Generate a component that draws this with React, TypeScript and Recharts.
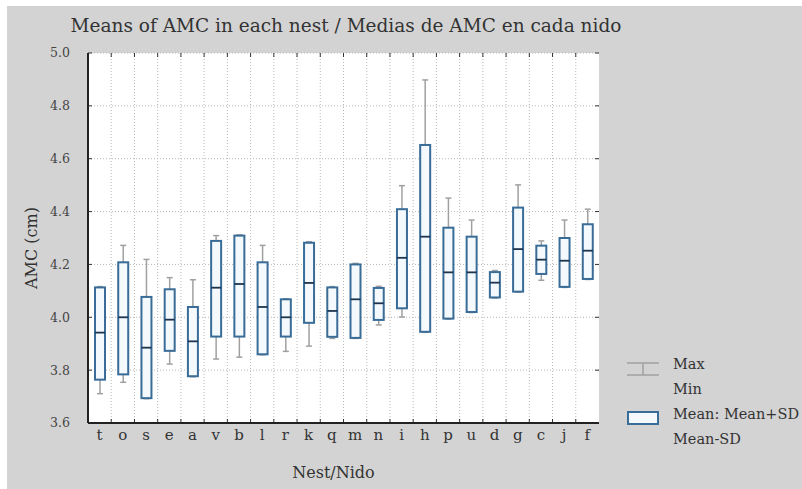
import React from "react";
import { ComposedChart, Bar, XAxis, YAxis, CartesianGrid, Label } from "recharts";

// nest codes in plotted order
const nests = ["t", "o", "s", "e", "a", "v", "b", "l", "r", "k", "q", "m", "n", "i", "h", "p", "u", "d", "g", "c", "j", "f"];
const means = [3.942, 4.0, 3.885, 3.991, 3.909, 4.112, 4.126, 4.039, 4.0, 4.13, 4.024, 4.068, 4.053, 4.225, 4.305, 4.17, 4.17, 4.131, 4.258, 4.218, 4.214, 4.252];
const meanPlusSD = [4.113, 4.208, 4.077, 4.106, 4.039, 4.289, 4.309, 4.208, 4.068, 4.282, 4.113, 4.2, 4.111, 4.409, 4.652, 4.339, 4.305, 4.171, 4.415, 4.271, 4.3, 4.352];
const meanMinusSD = [3.764, 3.784, 3.694, 3.873, 3.777, 3.927, 3.927, 3.86, 3.927, 3.979, 3.926, 3.922, 3.99, 4.034, 3.945, 3.995, 4.02, 4.075, 4.097, 4.164, 4.115, 4.145];
const maxima = [4.116, 4.272, 4.219, 4.15, 4.142, 4.309, 4.312, 4.272, 4.07, 4.286, 4.116, 4.204, 4.117, 4.498, 4.898, 4.451, 4.368, 4.177, 4.501, 4.289, 4.368, 4.409];
const minima = [3.711, 3.754, 3.692, 3.823, 3.775, 3.842, 3.849, 3.858, 3.871, 3.891, 3.92, 3.92, 3.971, 4.001, 3.943, 3.993, 4.018, 4.073, 4.095, 4.14, 4.113, 4.143];
const yTicks = [3.6, 3.8, 4.0, 4.2, 4.4, 4.6, 4.8, 5.0];

const FONT = "'DejaVu Serif', serif";
const BOX_STROKE = "#3a6c98";
const BOX_FILL = "#f3f9fd";
const MEAN_STROKE = "#1d3550";
const WHISKER = "#a0a0a0";

const data = nests.map((nest, i) => ({
  nest,
  mean: means[i],
  hi: meanPlusSD[i],
  lo: meanMinusSD[i],
  max: maxima[i],
  min: minima[i],
  range: [minima[i], maxima[i]],
}));

// the bar spans min..max; the other levels are placed on the same scale
const BoxShape = (props: any) => {
  const { x, y, width, height, payload } = props;
  const top = Math.min(y, y + height);
  const span = Math.abs(height);
  const { max, min, hi, lo, mean } = payload;
  const py = (v: number) => top + ((max - v) / (max - min)) * span;
  const cx = x + width / 2;
  const cap = 3;
  return (
    <g>
      <line x1={cx} x2={cx} y1={py(max)} y2={py(hi)} stroke={WHISKER} strokeWidth={1.5} />
      <line x1={cx} x2={cx} y1={py(lo)} y2={py(min)} stroke={WHISKER} strokeWidth={1.5} />
      <line x1={cx - cap} x2={cx + cap} y1={py(max)} y2={py(max)} stroke={WHISKER} strokeWidth={1.5} />
      <line x1={cx - cap} x2={cx + cap} y1={py(min)} y2={py(min)} stroke={WHISKER} strokeWidth={1.5} />
      <rect x={x} y={py(hi)} width={width} height={py(lo) - py(hi)} fill={BOX_FILL} stroke={BOX_STROKE} strokeWidth={2} />
      <line x1={x} x2={x + width} y1={py(mean)} y2={py(mean)} stroke={MEAN_STROKE} strokeWidth={1.8} />
    </g>
  );
};

// vertical grid at the borders between nests
const boundaries = ({ offset }: any) =>
  nests.slice(1).map((_, k) => offset.left + ((k + 1) * offset.width) / nests.length);

const LegendBox = () => (
  <div style={{ position: "absolute", left: 620, top: 352, fontFamily: FONT, fontSize: 14.5, color: "#333", lineHeight: "25px", whiteSpace: "nowrap" }}>
    <div style={{ display: "flex" }}>
      <svg width={53} height={50}>
        <line x1={7} x2={39} y1={11} y2={11} stroke={WHISKER} strokeWidth={1.5} />
        <line x1={7} x2={39} y1={23} y2={23} stroke={WHISKER} strokeWidth={1.5} />
        <line x1={23} x2={23} y1={11} y2={23} stroke={WHISKER} strokeWidth={1.5} />
      </svg>
      <div>
        <div>Max</div>
        <div>Min</div>
      </div>
    </div>
    <div style={{ display: "flex" }}>
      <svg width={53} height={50}>
        <rect x={8} y={10} width={30} height={12} fill={BOX_FILL} stroke={BOX_STROKE} strokeWidth={2} />
      </svg>
      <div>
        <div>Mean: Mean+SD</div>
        <div>Mean-SD</div>
      </div>
    </div>
  </div>
);

export default function App() {
  return (
    <div style={{ position: "absolute", left: 0, top: 0, width: 802, height: 489, background: "#fff", overflow: "hidden" }}>
      <div style={{ position: "absolute", left: 7, top: 6, right: 0, bottom: 0, background: "#d3d3d3" }} />
      <div style={{ position: "absolute", left: 0, top: 15, width: 692, textAlign: "center", fontFamily: FONT, fontSize: 18.5, color: "#333" }}>
        Means of AMC in each nest / Medias de AMC en cada nido
      </div>
      <div style={{ position: "absolute", left: 0, top: 0 }}>
        <ComposedChart width={802} height={489} data={data} margin={{ top: 53, right: 203, bottom: 0, left: 0 }}>
          <CartesianGrid fill="#fff" stroke="#b8b8b8" strokeDasharray="1 2" verticalCoordinatesGenerator={boundaries} />
          <CartesianGrid fill="none" stroke="#333" strokeDasharray="4 362 4 1000" horizontal={false} verticalCoordinatesGenerator={boundaries} />
          <CartesianGrid fill="none" stroke="#333" strokeDasharray="4 503 4 1000" vertical={false} />
          <XAxis
            dataKey="nest"
            height={66}
            tickSize={0}
            tickMargin={6}
            axisLine={{ stroke: "#222", strokeWidth: 2 }}
            tickLine={false}
            interval={0}
            tick={{ fontFamily: FONT, fontSize: 15, fill: "#333" }}
          >
            <Label
              content={({ viewBox }: any) => (
                <text x={viewBox.x + viewBox.width / 2 - 10} y={viewBox.y + 55} textAnchor="middle" fontFamily={FONT} fontSize={16} fill="#333">
                  Nest/Nido
                </text>
              )}
            />
          </XAxis>
          <XAxis xAxisId="top" dataKey="nest" orientation="top" height={0} tick={false} tickLine={false} axisLine={{ stroke: "#444", strokeWidth: 1.5 }} />
          <YAxis
            width={88}
            domain={[3.6, 5.0]}
            ticks={yTicks}
            tickFormatter={(v: number) => v.toFixed(1)}
            tickSize={0}
            tickMargin={18}
            axisLine={{ stroke: "#222", strokeWidth: 2 }}
            tickLine={false}
            tick={{ fontFamily: FONT, fontSize: 12.5, fill: "#444" }}
          >
            <Label
              content={({ viewBox }: any) => {
                const cx = viewBox.x + 31;
                const cy = viewBox.y + viewBox.height / 2 + 10;
                return (
                  <text x={cx} y={cy} transform={`rotate(-90 ${cx} ${cy})`} textAnchor="middle" dominantBaseline="central" fontFamily={FONT} fontSize={16} fill="#333">
                    AMC (cm)
                  </text>
                );
              }}
            />
          </YAxis>
          <YAxis yAxisId="right" orientation="right" width={0} domain={[3.6, 5.0]} tick={false} tickLine={false} axisLine={{ stroke: "#444", strokeWidth: 1.5 }} />
          <Bar dataKey="range" barSize={10} shape={<BoxShape />} isAnimationActive={false} />
        </ComposedChart>
      </div>
      <LegendBox />
    </div>
  );
}
